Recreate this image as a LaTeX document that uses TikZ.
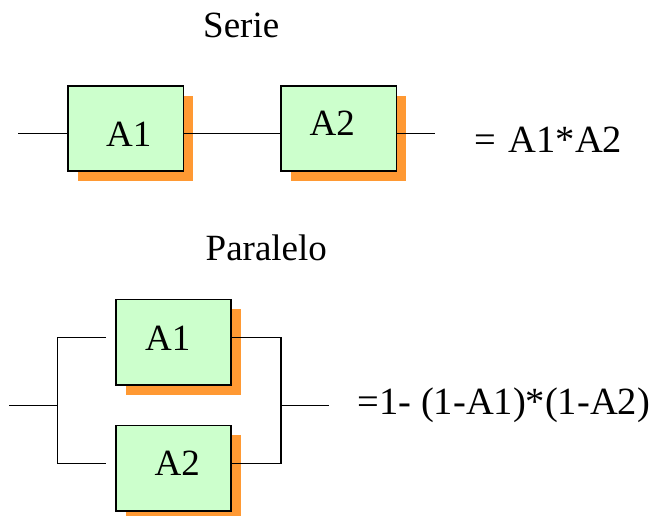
\documentclass[tikz,border=0pt]{standalone}
\usepackage{fontspec}
\setmainfont{Liberation Serif}
\usetikzlibrary{shadows}
\definecolor{boxgreen}{HTML}{CCFFCC}
\definecolor{shadeorange}{HTML}{FF9933}
\begin{document}
\begin{tikzpicture}[x=1pt,y=-1pt,
  wire/.style={line width=1.6pt, line cap=butt},
  block/.style={draw=black, line width=1.6pt, fill=boxgreen,
    minimum width=115.5pt, minimum height=85.5pt, inner sep=0pt,
    general shadow={fill=shadeorange, shadow xshift=10pt, shadow yshift=-10pt}},
  txt/.style={inner sep=0pt, anchor=base west, font=\fontsize{37}{44}\selectfont},
  formula/.style={txt, font=\fontsize{38.5}{46}\selectfont}]
\useasboundingbox (0,0) rectangle (657,515);

% --- series arrangement ---
\node[txt] (tserie) at (203,37.7) {Serie};
\node[block] (s1) at (125.7,128.5) {};
\node[block] (s2) at (338.7,128.5) {};
\node[txt] (ls1) at (106,146) {A1};
\node[txt] (ls2) at (309.5,135) {A2};
\coordinate (sin) at (18.3,133.3);
\coordinate (sout) at (435,133.3);
\draw[wire] (sin) -- (sin -| s1.west);
\draw[wire] (sin -| s1.east) -- (sin -| s2.west);
\draw[wire] (sin -| s2.east) -- (sout);
\node[formula] (fserie) at (474.5,152.7) {=\hspace{0.32em}A1*A2};

% --- parallel arrangement ---
\node[txt] (tpar) at (205.5,260) {Paralelo};
\node[block] (p1) at (173.5,342.2) {};
\node[block] (p2) at (173.5,468.2) {};
\node[txt] (lp1) at (145,350) {A1};
\node[txt] (lp2) at (154.5,475) {A2};
\coordinate (pin) at (9,405.3);
\coordinate (jl) at (57.3,405.3);
\coordinate (tl) at (57.3,337.3);
\coordinate (bl) at (57.3,463.3);
\coordinate (tle) at (106,337.3);
\coordinate (ble) at (106,463.3);
\coordinate (tr) at (281,337.3);
\coordinate (br) at (281,463.3);
\coordinate (jr) at (281,405.3);
\coordinate (pout) at (329,405.3);
\draw[wire] (pin) -- (jl);
\draw[wire] (tle) -- (tl) -- (bl) -- (ble);
\draw[wire] (tr -| p1.east) -- (tr) -- (br) -- (br -| p2.east);
\draw[wire] (jr) -- (pout);
\node[formula] (fpar) at (357.5,414.3) {=1- (1-A1)*(1-A2)};
\end{tikzpicture}
\end{document}
